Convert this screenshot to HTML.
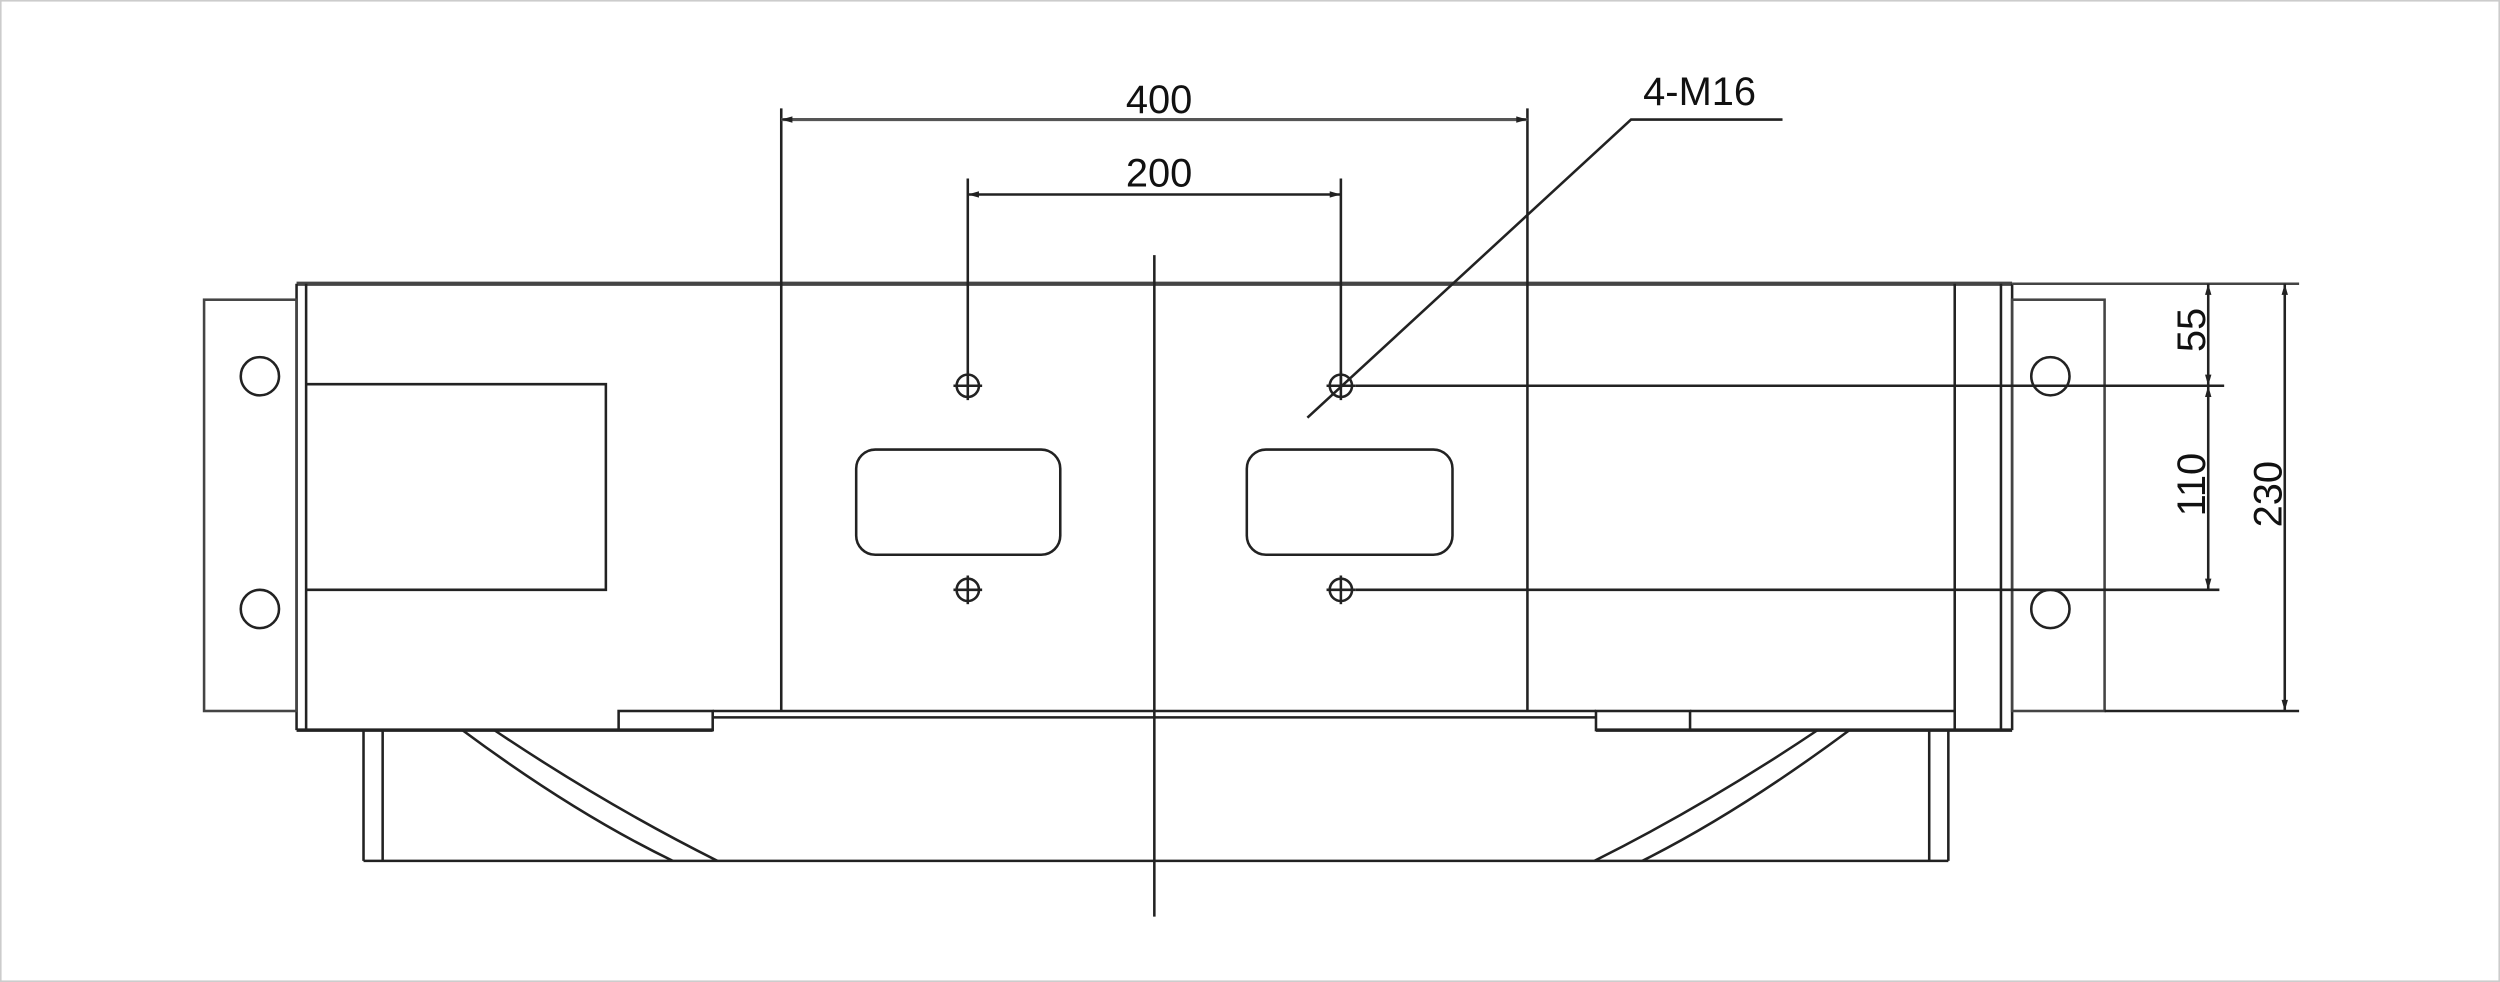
<!DOCTYPE html>
<html><head><meta charset="utf-8"><style>
html,body{margin:0;padding:0;background:#fff;}
svg{display:block;}
text{font-family:"Liberation Sans",Arial,sans-serif;fill:#111;}
</style></head><body>
<svg width="2500" height="982" viewBox="0 0 1568 616" preserveAspectRatio="none" xmlns="http://www.w3.org/2000/svg">
<rect x="0.5" y="0.5" width="1567" height="615" fill="#fff" stroke="#ccc" stroke-width="1"/>
<g fill="none" stroke="#222" stroke-width="1.6">
<line x1="186" y1="178" x2="1262" y2="178" stroke-width="2.6" stroke="#444"/>
<line x1="186" y1="178" x2="186" y2="458"/>
<line x1="192" y1="178" x2="192" y2="458"/>
<line x1="1255" y1="178" x2="1255" y2="458"/>
<line x1="1262" y1="178" x2="1262" y2="458"/>
<line x1="1226" y1="178" x2="1226" y2="458"/>
<line x1="186" y1="458" x2="447" y2="458" stroke-width="2.2"/>
<line x1="1001" y1="458" x2="1262" y2="458" stroke-width="2.2"/>
<rect x="388" y="446" width="59" height="12"/>
<rect x="1001" y="446" width="59" height="12"/>
<line x1="447" y1="446" x2="1001" y2="446"/>
<line x1="447" y1="450" x2="1001" y2="450"/>
<line x1="1060" y1="446" x2="1226" y2="446"/>
<rect x="128" y="188" width="58" height="258" stroke="#444"/>
<rect x="1262" y="188" width="58" height="258" stroke="#444"/>
<circle cx="163" cy="236" r="12"/>
<circle cx="163" cy="382" r="12"/>
<circle cx="1286" cy="236" r="12"/>
<circle cx="1286" cy="382" r="12"/>
<polyline points="192,241 380,241 380,370 192,370"/>
<line x1="490" y1="68" x2="490" y2="446"/>
<line x1="958" y1="68" x2="958" y2="446"/>
<line x1="490" y1="75" x2="958" y2="75" stroke="#555" stroke-width="2"/>
<line x1="607" y1="122" x2="841" y2="122"/>
<line x1="607" y1="112" x2="607" y2="241"/>
<line x1="841" y1="112" x2="841" y2="241"/>
<line x1="724" y1="160" x2="724" y2="575"/>
<g>
<circle cx="607" cy="242" r="7"/><line x1="598" y1="242" x2="616" y2="242"/><line x1="607" y1="233" x2="607" y2="251"/>
<circle cx="841" cy="242" r="7"/><line x1="832" y1="242" x2="850" y2="242"/><line x1="841" y1="233" x2="841" y2="251"/>
<circle cx="607" cy="370" r="7"/><line x1="598" y1="370" x2="616" y2="370"/><line x1="607" y1="361" x2="607" y2="379"/>
<circle cx="841" cy="370" r="7"/><line x1="832" y1="370" x2="850" y2="370"/><line x1="841" y1="361" x2="841" y2="379"/>
</g>
<rect x="537" y="282" width="128" height="66" rx="12"/>
<rect x="782" y="282" width="129" height="66" rx="12"/>
<line x1="850" y1="242" x2="1395" y2="242"/>
<line x1="850" y1="370" x2="1392" y2="370"/>
<line x1="1262" y1="178" x2="1442" y2="178" stroke="#444"/>
<line x1="1320" y1="446" x2="1442" y2="446"/>
<line x1="1385" y1="178" x2="1385" y2="370"/>
<line x1="1433" y1="178" x2="1433" y2="446"/>
<polyline points="820,262 1023,75 1118,75"/>
<line x1="228" y1="540" x2="1222" y2="540"/>
<line x1="228" y1="458" x2="228" y2="540"/>
<line x1="240" y1="458" x2="240" y2="540"/>
<line x1="1210" y1="458" x2="1210" y2="540"/>
<line x1="1222" y1="458" x2="1222" y2="540"/>
<path d="M290,458 Q360,510 422,540"/>
<path d="M310,458 Q380,505 450,540"/>
<path d="M1140,458 Q1070,505 1000,540"/>
<path d="M1160,458 Q1090,510 1030,540"/>
</g>
<g fill="#222">
<path d="M490,75 l7,-2 v4z M958,75 l-7,-2 v4z M607,122 l7,-2 v4z M841,122 l-7,-2 v4z"/>
<path d="M1385,178 l-2,7 h4z M1385,242 l-2,-7 h4z M1385,242 l-2,7 h4z M1385,370 l-2,-7 h4z"/>
<path d="M1433,178 l-2,7 h4z M1433,446 l-2,-7 h4z"/>
</g>
<text x="727" y="71" font-size="25" text-anchor="middle">400</text>
<text x="727" y="117" font-size="25" text-anchor="middle">200</text>
<text x="1066" y="66" font-size="25" text-anchor="middle">4-M16</text>
<text transform="translate(1383,207) rotate(-90)" font-size="25" text-anchor="middle">55</text>
<text transform="translate(1383,304) rotate(-90)" font-size="25" text-anchor="middle">110</text>
<text transform="translate(1431,310) rotate(-90)" font-size="25" text-anchor="middle">230</text>
</svg>
</body></html>
